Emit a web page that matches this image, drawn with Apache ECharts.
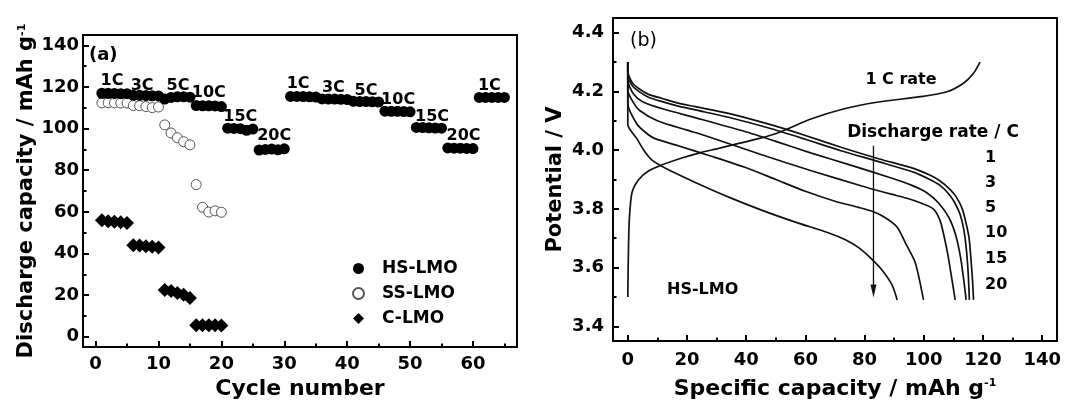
<!DOCTYPE html>
<html><head><meta charset="utf-8">
<script src="https://cdn.jsdelivr.net/npm/echarts@6/dist/echarts.min.js"></script>
<style>html,body{margin:0;padding:0;background:#fff}#c{width:1065px;height:405px}</style>
</head><body><div id="c"></div>
<script>
// ---------- Panel (a) data ----------
const hsCycles = [1,2,3,4,5,6,7,8,9,10,11,12,13,14,15,16,17,18,19,20,21,22,23,24,25,26,27,28,29,30,31,32,33,34,35,36,37,38,39,40,41,42,43,44,45,46,47,48,49,50,51,52,53,54,55,56,57,58,59,60,61,62,63,64,65];
const hsCapacity = [117,117,116.9,116.8,116.8, 116.1,116,115.9,115.8,115.7, 114.2,115,115.3,115.3,115.1, 111.1,111,111,110.9,110.6, 100.2,100.1,100,99.2,99.8, 89.7,90,90.2,89.8,90.3,
  115.5,115.5,115.4,115.3,115.2, 114.3,114.2,114.2,114.1,114, 113.1,113,113,112.9,112.8, 108.4,108.3,108.3,108.2,108.1, 100.6,100.5,100.4,100.3,100.2, 90.7,90.6,90.6,90.5,90.4, 115,115,115,115,115];
const ssCycles = [1,2,3,4,5,6,7,8,9,10,11,12,13,14,15,16,17,18,19,20];
const ssCapacity = [112.4,112.4,112.4,112.3,112.3, 111.1,111,110.6,110.1,110.4, 101.8,97.9,95.6,93.7,92.2, 73.1,62.2,59.9,60.5,59.8];
const cCycles = [1,2,3,4,5,6,7,8,9,10,11,12,13,14,15,16,17,18,19,20];
const cCapacity = [56,55.5,55.2,55,54.6, 44,43.8,43.5,43.2,42.9, 22.5,22,21,20.2,18.6, 5.5,5.5,5.5,5.5,5.4];
const rateNames = ['1C','3C','5C','10C','15C','20C','1C','3C','5C','10C','15C','20C','1C'];
const rateLabelCycle = [2.6,7.4,13.1,18.0,23.0,28.4,32.2,37.8,43.0,48.1,53.5,58.5,62.6];
const rateLabelCapacity = [122.9,120.6,120.6,117.3,105.7,96.4,121.5,119.7,118.4,113.6,105.7,96.4,120.6];
const aXTicks = [0,10,20,30,40,50,60];
const aXMinor = [5,15,25,35,45,55,65];
const aYTicks = [0,20,40,60,80,100,120,140];
const aYMinor = [10,30,50,70,90,110,130];

// ---------- Panel (b) data: [specific capacity, potential] ----------
const dis1C = [[0,4.30],[0,4.27],[1.5,4.23],[3.7,4.21],[7,4.19],[11.6,4.176],[17,4.16],[22.8,4.148],[34,4.125],[48.8,4.085],[60,4.05],[72,4.01],[85,3.97],[96.5,3.938],[102,3.915],[105.5,3.895],[109,3.865],[111,3.84],[113,3.80],[114.3,3.75],[115.3,3.70],[116,3.62],[116.5,3.55],[116.8,3.49]];
const dis3C = [[0,4.30],[0,4.255],[1.5,4.22],[3.7,4.20],[7,4.18],[11.6,4.165],[17,4.15],[22.8,4.137],[34,4.112],[48.8,4.072],[60,4.037],[72,3.998],[85,3.96],[96.5,3.925],[102,3.90],[105.5,3.88],[108.5,3.85],[110.5,3.82],[112.3,3.78],[113.5,3.73],[114.4,3.66],[115,3.58],[115.4,3.49]];
const dis5C = [[0,4.30],[0,4.238],[2,4.19],[5,4.165],[12,4.14],[23,4.11],[39,4.065],[50,4.03],[62,3.99],[75,3.95],[89,3.905],[96,3.88],[101,3.855],[105,3.82],[108.5,3.77],[110.8,3.71],[112.5,3.63],[113.6,3.55],[114.3,3.49]];
const dis10C = [[0,4.30],[0,4.204],[2,4.16],[4,4.135],[10,4.10],[20,4.068],[26,4.05],[45,3.985],[62,3.93],[79,3.878],[89,3.85],[94.3,3.836],[99,3.82],[103.2,3.80],[105.5,3.76],[107,3.70],[108.2,3.64],[109.5,3.56],[110.6,3.49]];
const dis15C = [[0,4.30],[0,4.159],[3,4.09],[6,4.06],[9,4.04],[17,4.015],[28,3.98],[40,3.94],[50,3.90],[60,3.86],[70,3.826],[78,3.805],[83,3.79],[87,3.77],[90.9,3.739],[94,3.68],[97,3.62],[98.5,3.56],[99.9,3.49]];
const dis20C = [[0,4.30],[0,4.087],[3,4.04],[5.4,4.0],[8.2,3.966],[13.9,3.932],[22.8,3.89],[34.1,3.84],[45.4,3.795],[56.6,3.755],[67.9,3.718],[73.5,3.695],[78,3.668],[82.5,3.628],[86,3.59],[89.3,3.54],[91,3.49]];
const charge1C = [[0,3.5],[0.2,3.65],[0.5,3.76],[1.4,3.855],[3.7,3.90],[7.1,3.93],[11.6,3.95],[17.2,3.97],[24,3.99],[30.7,4.006],[37.5,4.023],[44.5,4.04],[51.5,4.062],[61.6,4.105],[72.8,4.14],[84.1,4.163],[98.8,4.182],[107.8,4.199],[113.4,4.228],[116.8,4.262],[119,4.30]];
const arrowLine = [[83,4.015],[83,3.52]];
const arrowHead = [[83,3.52]];
const bXTicks = [0,20,40,60,80,100,120,140];
const bXMinor = [10,30,50,70,90,110,130];
const bYTicks = [3.4,3.6,3.8,4.0,4.2,4.4];
const bYMinor = [3.5,3.7,3.9,4.1,4.3];

// ---------- chart ----------
const F = 'DejaVu Sans';
const black = '#000';
const tickLabel = {fontFamily:F, fontWeight:'bold', fontSize:18, color:black};
function mainAxis(grid, min, max, ticks, margin, fmt, extra){
  return Object.assign({
    type:'value', gridIndex:grid, min:min, max:max,
    axisLine:{show:true, onZero:false, lineStyle:{color:black, width:2}},
    axisTick:{show:true, inside:true, length:6, lineStyle:{color:black, width:2}, customValues:ticks},
    axisLabel:Object.assign({show:true, margin:margin, customValues:ticks, formatter:fmt}, tickLabel),
    splitLine:{show:false}
  }, extra||{});
}
function minorAxis(grid, min, max, ticks, pos){
  return {type:'value', gridIndex:grid, min:min, max:max, position:pos,
    axisLine:{show:false, onZero:false},
    axisTick:{show:true, inside:true, length:3.5, lineStyle:{color:black, width:2}, customValues:ticks},
    axisLabel:{show:false}, splitLine:{show:false}};
}
const titleStyle = {fontFamily:F, fontWeight:'bold', fontSize:21, color:black,
  rich:{sup:{fontFamily:F, fontWeight:'bold', fontSize:11, color:black, verticalAlign:'top', lineHeight:12}}};
const xTitleStyle = Object.assign({}, titleStyle, {fontSize:22});

function lineSeries(name, data){
  return {type:'line', name:name, xAxisIndex:2, yAxisIndex:2, data:data, showSymbol:false, symbol:'none',
    smooth:0.25, lineStyle:{color:'#111', width:1.7}, silent:true, z:3};
}

const chart = echarts.init(document.getElementById('c'), null, {renderer:'canvas'});
chart.setOption({
  animation:false,
  backgroundColor:'#fff',
  grid:[
    {left:83, top:35, width:434, height:322, show:true, borderColor:black, borderWidth:2, backgroundColor:'transparent'},
    {left:613, top:18, width:444, height:325, show:true, borderColor:black, borderWidth:2, backgroundColor:'transparent'}
  ],
  xAxis:[
    mainAxis(0, -2, 67, aXTicks, 8, v=>String(v), {position:'bottom', name:'Cycle number', nameLocation:'middle', nameGap:23, nameTextStyle:xTitleStyle}),
    minorAxis(0, -2, 67, aXMinor, 'bottom'),
    mainAxis(1, -5, 145, bXTicks, 10, v=>String(v), {position:'bottom', name:'Specific capacity / mAh g{sup|-1}', nameLocation:'middle', nameGap:37, nameTextStyle:xTitleStyle}),
    minorAxis(1, -5, 145, bXMinor, 'bottom')
  ],
  yAxis:[
    mainAxis(0, -5, 145, aYTicks, 4, v=>String(v), {position:'left', name:'Discharge capacity / mAh g{sup|-1}', nameLocation:'middle', nameRotate:90, nameGap:39, nameTextStyle:titleStyle}),
    minorAxis(0, -5, 145, aYMinor, 'left'),
    mainAxis(1, 3.35, 4.45, bYTicks, 9, v=>Number(v).toFixed(1), {position:'left', name:'Potential / V', nameLocation:'middle', nameRotate:90, nameGap:47, nameTextStyle:titleStyle}),
    minorAxis(1, 3.35, 4.45, bYMinor, 'left')
  ],
  legend:{
    orient:'vertical', left:347, top:255, itemWidth:11, itemHeight:11, itemGap:8,
    textStyle:{fontFamily:F, fontWeight:'bold', fontSize:17, color:black, lineHeight:17, padding:[0,0,0,13]},
    data:['HS-LMO','SS-LMO','C-LMO'], selectedMode:false
  },
  series:[
    {type:'scatter', name:'SS-LMO', xAxisIndex:0, yAxisIndex:0, symbol:'circle', symbolSize:10,
      itemStyle:{color:'#fff', borderColor:'#555', borderWidth:1, opacity:1},
      data:ssCycles.map((c,i)=>[c, ssCapacity[i]]), z:2},
    {type:'scatter', name:'HS-LMO', xAxisIndex:0, yAxisIndex:0, symbol:'circle', symbolSize:11,
      itemStyle:{color:black, opacity:1}, data:hsCycles.map((c,i)=>[c, hsCapacity[i]]), z:3},
    {type:'scatter', name:'C-LMO', xAxisIndex:0, yAxisIndex:0, symbol:'diamond', symbolSize:14,
      itemStyle:{color:black, opacity:1}, data:cCycles.map((c,i)=>[c, cCapacity[i]]), z:3},
    {type:'scatter', name:'rates', xAxisIndex:0, yAxisIndex:0, symbolSize:0, silent:true, z:5,
      itemStyle:{opacity:1, color:black},
      data:rateNames.map((n,i)=>[rateLabelCycle[i], rateLabelCapacity[i], n]),
      label:{show:true, position:'inside', formatter:p=>p.value[2], fontFamily:F, fontWeight:'bold', fontSize:16, color:black, opacity:1}},
    lineSeries('1C', dis1C),
    lineSeries('3C', dis3C),
    lineSeries('5C', dis5C),
    lineSeries('10C', dis10C),
    lineSeries('15C', dis15C),
    lineSeries('20C', dis20C),
    lineSeries('charge', charge1C),
    {type:'line', name:'arrow', xAxisIndex:2, yAxisIndex:2, data:arrowLine, symbol:'none', silent:true,
      lineStyle:{color:'#111', width:1.3}},
    {type:'scatter', name:'arrowhead', xAxisIndex:2, yAxisIndex:2, data:arrowHead, symbol:'triangle',
      symbolSize:[6,13], symbolRotate:180, silent:true, itemStyle:{color:'#111', opacity:1}}
  ],
  graphic:[
    {type:'text', left:89, top:46, style:{text:'(a)', font:'bold 18px "DejaVu Sans"', fill:black}},
    {type:'text', left:630, top:32, style:{text:'(b)', font:'normal 19px "DejaVu Sans"', fill:black}},
    {type:'text', x:901, y:80, style:{text:'1 C rate', font:'bold 16px "DejaVu Sans"', fill:black, align:'center', verticalAlign:'middle'}},
    {type:'text', x:933, y:133, style:{text:'Discharge rate / C', font:'bold 17px "DejaVu Sans"', fill:black, align:'center', verticalAlign:'middle'}},
    {type:'text', x:985, y:158, style:{text:'1', font:'bold 16px "DejaVu Sans"', fill:black, align:'left', verticalAlign:'middle'}},
    {type:'text', x:985, y:183, style:{text:'3', font:'bold 16px "DejaVu Sans"', fill:black, align:'left', verticalAlign:'middle'}},
    {type:'text', x:985, y:208, style:{text:'5', font:'bold 16px "DejaVu Sans"', fill:black, align:'left', verticalAlign:'middle'}},
    {type:'text', x:985, y:233, style:{text:'10', font:'bold 16px "DejaVu Sans"', fill:black, align:'left', verticalAlign:'middle'}},
    {type:'text', x:985, y:259, style:{text:'15', font:'bold 16px "DejaVu Sans"', fill:black, align:'left', verticalAlign:'middle'}},
    {type:'text', x:985, y:285, style:{text:'20', font:'bold 16px "DejaVu Sans"', fill:black, align:'left', verticalAlign:'middle'}},
    {type:'text', x:667, y:290, style:{text:'HS-LMO', font:'bold 16px "DejaVu Sans"', fill:black, align:'left', verticalAlign:'middle'}}
  ]
});
</script></body></html>
